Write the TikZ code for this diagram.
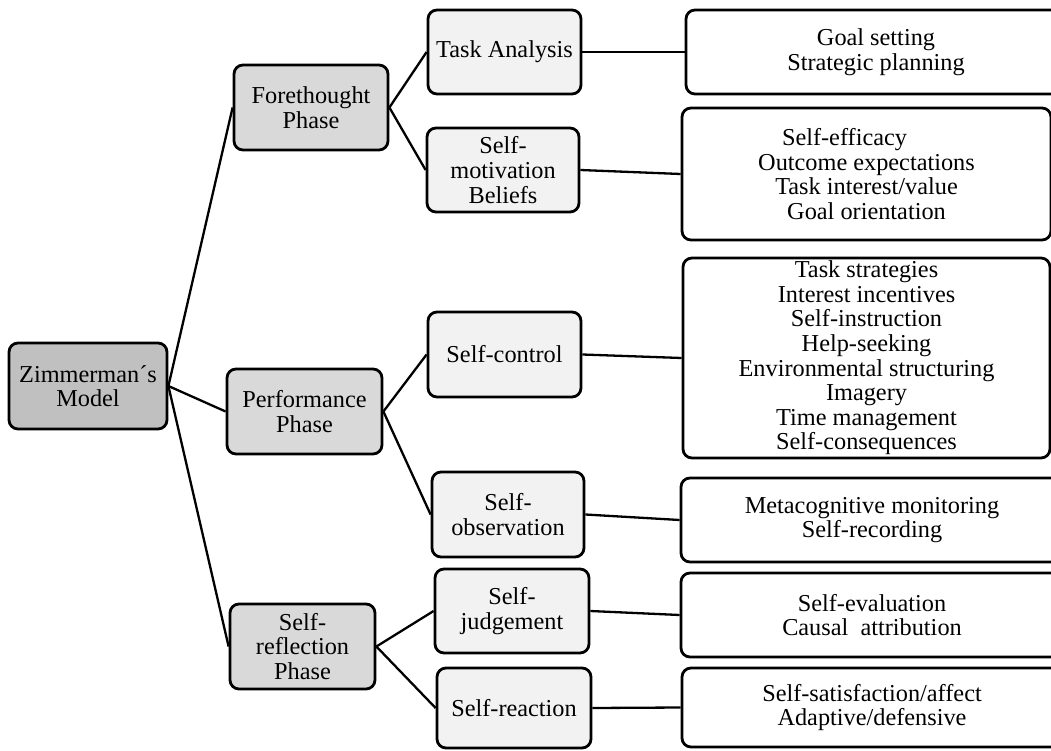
\documentclass[tikz,border=0pt]{standalone}
\usepackage{fontspec}
\setmainfont{Liberation Serif}
\definecolor{rootgray}{RGB}{192,192,192}
\definecolor{phasegray}{RGB}{217,217,217}
\definecolor{subgray}{RGB}{242,242,242}
\tikzset{
  box/.style={draw=black, line width=2.8pt, rounded corners=9pt, inner sep=0pt,
    align=center, font=\fontsize{24.3}{24.6}\selectfont},
  rootbox/.style={box, fill=rootgray},
  phasebox/.style={box, fill=phasegray},
  subbox/.style={box, fill=subgray},
  itembox/.style={box, fill=white},
  link/.style={draw=black, line width=2.3pt},
}
\begin{document}
\begin{tikzpicture}[x=1pt, y=-1pt]
  \useasboundingbox (0,0) rectangle (1051,751);
  \clip (0,0) rectangle (1051,751);

  % root
  \node[rootbox, minimum width=158pt, minimum height=86pt] (zim) at (88,386) {Zimmerman´s\\Model};

  % phases
  \node[phasebox, minimum width=154pt, minimum height=85pt] (fore) at (311,107.5) {Forethought\\Phase};
  \node[phasebox, minimum width=155pt, minimum height=85pt] (perf) at (304.5,411.5) {Performance\\Phase};
  \node[phasebox, minimum width=145pt, minimum height=85pt] (refl) at (302.5,646.5) {Self-\\reflection\\Phase};

  % processes
  \node[subbox, minimum width=153pt, minimum height=84pt] (task) at (504.5,52) {Task Analysis};
  \node[subbox, minimum width=152pt, minimum height=84pt] (motiv) at (503,170) {Self-\\motivation\\Beliefs};
  \node[subbox, minimum width=153pt, minimum height=85pt] (ctrl) at (504.5,354.5) {Self-control};
  \node[subbox, minimum width=152pt, minimum height=85pt] (obs) at (508,514.5) {Self-\\observation};
  \node[subbox, minimum width=154pt, minimum height=84pt] (judg) at (512,611) {Self-\\judgement};
  \node[subbox, minimum width=154pt, minimum height=80pt] (react) at (514,708) {Self-reaction};

  % sub-processes
  \node[itembox, minimum width=380pt, minimum height=84pt] (goal) at (876,52) {Goal setting\\Strategic planning};
  \node[itembox, minimum width=369pt, minimum height=132pt] (eff) at (866.5,174)
    {Self-efficacy\hspace*{44pt}\\Outcome expectations\\Task interest/value\\Goal orientation};
  \node[itembox, minimum width=367pt, minimum height=200pt] (strat) at (866.5,358)
    {Task strategies\\Interest incentives\\Self-instruction\\Help-seeking\\Environmental structuring\\Imagery\\Time management\\Self-consequences};
  \node[itembox, minimum width=382pt, minimum height=84pt] (meta) at (872,520) {Metacognitive monitoring\\Self-recording};
  \node[itembox, minimum width=382pt, minimum height=84pt] (eval) at (872,615) {Self-evaluation\\Causal\ \ attribution};
  \node[itembox, minimum width=380pt, minimum height=79pt] (sat) at (872,707.5) {Self-satisfaction/affect\\Adaptive/defensive};

  % connectors
  \draw[link] (zim.east) -- (fore.west);
  \draw[link] (zim.east) -- (perf.west);
  \draw[link] (zim.east) -- (refl.west);
  \draw[link] (fore.east) -- (task.west);
  \draw[link] (fore.east) -- (motiv.west);
  \draw[link] (perf.east) -- (ctrl.west);
  \draw[link] (perf.east) -- (obs.west);
  \draw[link] (refl.east) -- (judg.west);
  \draw[link] (refl.east) -- (react.west);
  \draw[link] (task.east) -- (goal.west);
  \draw[link] (motiv.east) -- (eff.west);
  \draw[link] (ctrl.east) -- (strat.west);
  \draw[link] (obs.east) -- (meta.west);
  \draw[link] (judg.east) -- (eval.west);
  \draw[link] (react.east) -- (sat.west);
\end{tikzpicture}
\end{document}
